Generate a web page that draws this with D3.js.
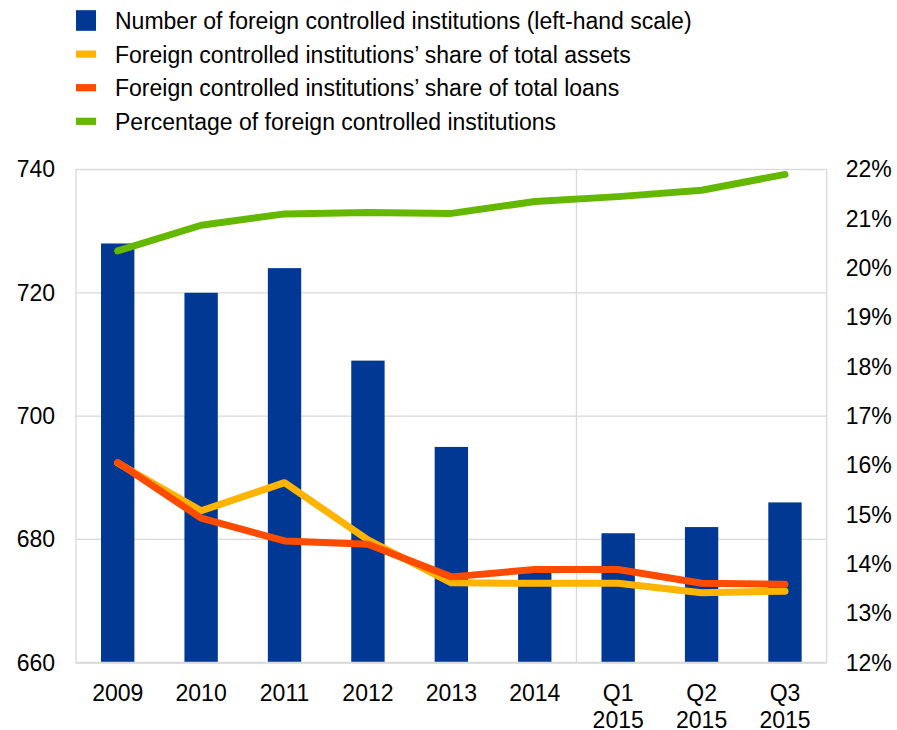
<!DOCTYPE html>
<html>
<head>
<meta charset="utf-8">
<script src="https://cdn.jsdelivr.net/npm/d3@7"></script>
<style>
  html, body { margin: 0; padding: 0; background: #fff; }
  svg { display: block; font-family: "Liberation Sans", Arial, sans-serif; }
</style>
</head>
<body>
<svg id="chart" width="897" height="730"></svg>
<script>
// Categories (two-line labels split on "\n")
const categories = ["2009", "2010", "2011", "2012", "2013", "2014", "Q1\n2015", "Q2\n2015", "Q3\n2015"];
// Number of foreign controlled institutions (left-hand scale)
const institutionCount = [728, 720, 724, 709, 695, 675, 681, 682, 686];
// Shares in percent (right-hand scale)
const assetShare = [16.05, 15.08, 15.65, 14.49, 13.62, 13.61, 13.61, 13.42, 13.45];
const loanShare = [16.06, 14.93, 14.47, 14.40, 13.74, 13.89, 13.89, 13.61, 13.59];
const foreignPct = [20.35, 20.87, 21.10, 21.13, 21.11, 21.35, 21.45, 21.58, 21.90];
// Axis ticks
const leftTicks = [660, 680, 700, 720, 740];
const rightTicks = [12, 13, 14, 15, 16, 17, 18, 19, 20, 21, 22];

const legendItems = [
  { label: "Number of foreign controlled institutions (left-hand scale)", color: "#003894", kind: "box" },
  { label: "Foreign controlled institutions\u2019 share of total assets", color: "#FFB400", kind: "line" },
  { label: "Foreign controlled institutions\u2019 share of total loans", color: "#FF4B00", kind: "line" },
  { label: "Percentage of foreign controlled institutions", color: "#65B800", kind: "line" }
];

const svg = d3.select("#chart");
const plot = { left: 76, right: 826.7, top: 169.5, bottom: 662.7 };
const fontSize = 23;

const x = d3.scaleBand()
  .domain(categories)
  .range([plot.left, plot.right])
  .paddingInner(0.6)
  .paddingOuter(0.3);
const step = x.step();

const yLeft = d3.scaleLinear().domain([660, 740]).range([plot.bottom, plot.top]);
const yRight = d3.scaleLinear().domain([12, 22]).range([plot.bottom, plot.top]);

// Grid: horizontal lines at the left-hand ticks, one vertical separator before the quarterly data
const grid = svg.append("g").attr("stroke", "#d9d9d9").attr("stroke-width", 1.3).attr("fill", "none");
grid.selectAll("line.h")
  .data(leftTicks.filter(d => d > 660 && d < 740))
  .join("line")
  .attr("x1", plot.left).attr("x2", plot.right)
  .attr("y1", d => yLeft(d)).attr("y2", d => yLeft(d));
const sepX = x(categories[6]) - (step - x.bandwidth()) / 2;
grid.append("line")
  .attr("x1", sepX).attr("x2", sepX)
  .attr("y1", plot.top).attr("y2", plot.bottom);
grid.append("rect")
  .attr("x", plot.left).attr("y", plot.top)
  .attr("width", plot.right - plot.left).attr("height", plot.bottom - plot.top);

// Bars
svg.append("g").selectAll("rect")
  .data(categories)
  .join("rect")
  .attr("x", d => x(d))
  .attr("width", x.bandwidth())
  .attr("y", (d, i) => yLeft(institutionCount[i]))
  .attr("height", (d, i) => plot.bottom - yLeft(institutionCount[i]))
  .attr("fill", "#003894");

// Bottom axis line
svg.append("line")
  .attr("x1", plot.left).attr("x2", plot.right)
  .attr("y1", plot.bottom).attr("y2", plot.bottom)
  .attr("stroke", "#d9d9d9").attr("stroke-width", 2);

// Lines
const lineGen = d3.line()
  .x((d, i) => x(categories[i]) + x.bandwidth() / 2)
  .y(d => yRight(d));
[[assetShare, "#FFB400"], [loanShare, "#FF4B00"], [foreignPct, "#65B800"]].forEach(([vals, color]) => {
  svg.append("path")
    .datum(vals)
    .attr("d", lineGen)
    .attr("fill", "none")
    .attr("stroke", color)
    .attr("stroke-width", 7)
    .attr("stroke-linecap", "round")
    .attr("stroke-linejoin", "round");
});

// Left axis
const leftAxis = svg.append("g")
  .attr("transform", `translate(${plot.left},0)`)
  .call(d3.axisLeft(yLeft).tickValues(leftTicks).tickSize(0).tickPadding(21));
leftAxis.select(".domain").remove();
leftAxis.selectAll("text")
  .attr("font-size", fontSize).attr("fill", "#000")
  .attr("font-family", "'Liberation Sans', Arial, sans-serif");

// Right axis
const rightAxis = svg.append("g")
  .attr("transform", `translate(${plot.right},0)`)
  .call(d3.axisRight(yRight).tickValues(rightTicks).tickFormat(d => d + "%").tickSize(0).tickPadding(19));
rightAxis.select(".domain").remove();
rightAxis.selectAll("text")
  .attr("font-size", fontSize).attr("fill", "#000")
  .attr("font-family", "'Liberation Sans', Arial, sans-serif");

// Category labels
const xAxis = svg.append("g")
  .attr("transform", `translate(0,${plot.bottom})`)
  .call(d3.axisBottom(x).tickSize(0).tickFormat(""));
xAxis.select(".domain").remove();
xAxis.selectAll(".tick").each(function (d) {
  const t = d3.select(this).append("text")
    .attr("fill", "#000")
    .attr("font-size", fontSize)
    .attr("font-family", "'Liberation Sans', Arial, sans-serif")
    .attr("text-anchor", "middle");
  d.split("\n").forEach((part, i) => {
    t.append("tspan").attr("x", 0).attr("y", 38 + i * 27).text(part);
  });
});

// Legend
const legend = svg.append("g");
legendItems.forEach((item, i) => {
  const cy = 20.5 + i * 33.6;
  if (item.kind === "box") {
    legend.append("rect").attr("x", 76).attr("y", cy - 10.3).attr("width", 20).attr("height", 20.6).attr("fill", item.color);
  } else {
    legend.append("rect").attr("x", 76).attr("y", cy - 3.6).attr("width", 20).attr("height", 7.2).attr("fill", item.color);
  }
  legend.append("text")
    .attr("x", 115).attr("y", cy + 8.5)
    .attr("font-size", fontSize).attr("fill", "#000")
    .text(item.label);
});
</script>
</body>
</html>
